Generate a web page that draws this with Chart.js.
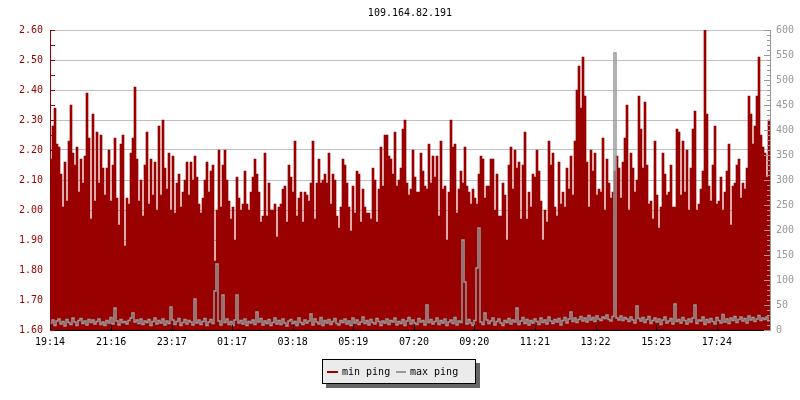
<!DOCTYPE html>
<html>
<head>
<meta charset="utf-8">
<title>109.164.82.191</title>
<script src="https://cdn.jsdelivr.net/npm/chart.js@4.4.1/dist/chart.umd.min.js"></script>
<style>
  html, body { margin: 0; padding: 0; background: #fff; }
  canvas { display: block; }
</style>
</head>
<body>
<canvas id="pingChart" width="800" height="400"></canvas>
<script>
// Host and series names
const chartTitle = '109.164.82.191';
const seriesNames = ['min ping', 'max ping'];

// Time labels on the bottom axis (24h starting 19:14)
const tickLabels = ['19:14', '21:16', '23:17', '01:17', '03:18', '05:19',
                    '07:20', '09:20', '11:21', '13:22', '15:23', '17:24'];
const startTime = '19:14';
const spanMinutes = 1436;

// min ping (left axis), one value per ~4 minutes
const minPing = [
    2.17, 2.28, 2.34, 2.22, 2.21, 2.12, 2.01, 2.16, 2.03, 2.23, 2.35, 2.19,
    2.15, 2.21, 2.06, 2.17, 2.09, 2.18, 2.39, 2.24, 1.97, 2.32, 2.03, 2.26,
    2.09, 2.25, 2.14, 2.05, 2.14, 2.20, 2.03, 2.15, 2.24, 2.04, 1.95, 2.22,
    2.25, 1.88, 2.04, 2.02, 2.19, 2.24, 2.41, 2.17, 2.03, 2.10, 1.98, 2.15,
    2.26, 2.02, 2.17, 2.05, 2.16, 2.00, 2.28, 2.05, 2.30, 2.14, 2.07, 2.19,
    2.00, 2.18, 1.99, 2.09, 2.12, 2.01, 2.06, 2.10, 2.16, 2.05, 2.16, 2.10,

    2.18, 2.11, 2.02, 1.99, 2.04, 2.10, 2.16, 2.06, 2.13, 2.15, 1.83, 2.00,
    2.20, 2.01, 2.15, 2.20, 2.10, 2.03, 1.97, 2.01, 1.90, 2.11, 2.04, 2.00,
    2.02, 2.13, 2.02, 2.00, 2.06, 2.11, 2.17, 2.12, 2.06, 1.96, 1.98, 2.19,
    1.98, 2.09, 2.00, 2.00, 2.02, 1.91, 2.01, 2.02, 2.07, 2.08, 1.96, 2.15,
    2.11, 2.06, 2.23, 1.98, 2.04, 2.06, 1.96, 2.06, 2.05, 2.03, 2.09, 2.23,
    1.97, 2.09, 2.17, 2.09, 2.10, 2.12, 2.09, 2.19, 2.02, 2.12, 2.10, 1.98,

    1.94, 2.01, 2.17, 2.15, 2.09, 2.01, 1.93, 2.08, 1.99, 2.13, 2.12, 1.96,
    2.07, 2.01, 1.99, 1.99, 1.97, 2.14, 2.10, 1.96, 2.07, 2.21, 2.08, 2.25,
    2.25, 2.18, 2.17, 2.12, 2.26, 2.08, 2.10, 2.14, 2.27, 2.30, 2.09, 2.05,
    2.07, 2.20, 2.11, 2.06, 2.06, 2.19, 2.13, 2.08, 2.07, 2.22, 2.09, 2.18,
    2.11, 2.18, 1.98, 2.23, 2.07, 2.08, 1.90, 2.06, 2.30, 2.21, 2.22, 1.99,
    2.07, 2.13, 2.09, 2.21, 2.08, 2.06, 2.02, 2.07, 2.04, 2.02, 2.12, 2.18,

    2.17, 2.04, 2.08, 2.08, 2.17, 2.17, 2.00, 2.12, 1.98, 1.98, 2.09, 2.05,
    1.90, 2.15, 2.21, 2.07, 2.20, 2.14, 2.16, 1.97, 2.15, 2.26, 1.97, 2.06,
    2.01, 2.12, 2.11, 2.20, 2.13, 2.03, 1.90, 2.00, 1.96, 2.23, 2.15, 2.19,
    2.01, 1.98, 2.16, 2.02, 2.06, 2.01, 2.14, 2.07, 2.18, 2.05, 2.23, 2.40,
    2.48, 2.34, 2.51, 2.38, 2.16, 2.01, 2.20, 2.13, 2.19, 2.05, 2.07, 2.06,
    2.24, 2.00, 2.17, 2.09, 2.04, 2.06, 2.13, 2.18, 2.14, 2.04, 2.16, 2.24,

    2.35, 2.00, 2.19, 2.14, 2.06, 2.10, 2.38, 2.27, 2.14, 2.36, 2.15, 2.02,
    2.03, 1.97, 2.23, 2.05, 1.94, 2.01, 2.19, 2.12, 2.05, 2.06, 2.15, 2.01,
    2.01, 2.27, 2.26, 2.05, 2.23, 2.06, 2.20, 2.00, 2.14, 2.27, 2.33, 2.00,
    2.02, 2.07, 2.13, 2.60, 2.32, 2.08, 2.03, 2.15, 2.28, 2.02, 2.03, 2.11,
    2.00, 2.06, 2.13, 2.22, 1.95, 2.08, 2.09, 2.15, 2.17, 2.04, 2.09, 2.07,
    2.14, 2.38, 2.32, 2.22, 2.28, 2.38, 2.51, 2.25, 2.21, 2.19, 2.11, 2.30
];

// max ping (right axis), same sampling
const maxPing = [
    14, 20, 9, 18, 22, 12, 17, 8, 21, 15, 11, 24, 16, 9, 19, 23, 13, 18, 10, 21, 15, 20, 12, 17,
    22, 11, 16, 9, 19, 14, 25, 12, 44, 18, 10, 21, 15, 17, 12, 19, 24, 34, 16, 20, 13, 22, 11, 18,
    15, 21, 9, 17, 24, 12, 19, 14, 22, 10, 18, 13, 46, 20, 11, 17, 23, 9, 15, 21, 12, 19, 16, 10,
    62, 14, 20, 11, 17, 23, 9, 16, 21, 13, 78, 132, 18, 10, 70, 15, 22, 11, 17, 9, 20, 70, 14, 19,
    12, 22, 9, 17, 14, 20, 11, 36, 16, 23, 10, 18, 13, 21, 9, 15, 24, 12, 19, 11, 22, 14, 8, 18,
    21, 13, 17, 9, 24, 15, 11, 20, 14, 18, 32, 10, 22, 16, 12, 25, 9, 19, 14, 21, 11, 17, 23, 13,
    10, 19, 15, 22, 12, 18, 9, 24, 14, 20, 11, 16, 26, 13, 19, 10, 21, 15, 12, 23, 17, 9, 18, 14,
    22, 11, 19, 16, 24, 10, 17, 13, 21, 9, 18, 25, 12, 20, 14, 11, 23, 16, 19, 10, 50, 15, 21, 12,
    17, 24, 11, 19, 14, 22, 9, 16, 20, 13, 25, 10, 18, 15, 180, 96, 12, 21, 14, 9, 19, 124, 204, 16,
    11, 34, 20, 13, 18, 24, 10, 17, 22, 14, 9, 19, 15, 23, 12, 20, 16, 44, 11, 18, 25, 13, 21, 10,
    19, 14, 22, 17, 11, 24, 15, 20, 12, 26, 18, 13, 21, 16, 23, 10, 19, 25, 14, 22, 36, 17, 24, 15,
    21, 27, 18, 24, 16, 29, 20, 25, 17, 28, 22, 19, 26, 23, 30, 21, 18, 27, 554, 24, 20, 28, 19, 25,
    22, 17, 26, 20, 14, 48, 23, 18, 25, 15, 21, 27, 13, 19, 24, 16, 22, 11, 20, 26, 14, 18, 23, 12,
    52, 17, 21, 14, 25, 19, 12, 22, 16, 24, 50, 13, 20, 18, 26, 11, 21, 15, 23, 17, 12, 25, 19, 14,
    31, 16, 22, 13, 24, 19, 27, 15, 21, 26, 18, 23, 14, 28, 20, 25, 17, 22, 29, 19, 24, 21, 26, 18
];

const minColor = '#990000';
const maxColor = '#999999';
const monoFont = '"DejaVu Sans Mono", "Liberation Mono", monospace';

// minutes after the start time for a "HH:MM" label
function minutesFromStart(label) {
    const [h, m] = label.split(':').map(Number);
    const [h0, m0] = startTime.split(':').map(Number);
    return ((h * 60 + m) - (h0 * 60 + m0) + 1440) % 1440;
}

const slotMinutes = spanMinutes / minPing.length;
const slotCentres = minPing.map((v, i) => i + 0.5);
const tickSlots = tickLabels.map(t => minutesFromStart(t) / slotMinutes);

Chart.defaults.font.family = monoFont;
Chart.defaults.font.size = 10;

// title, inward tick marks and the boxed legend
const decorPlugin = {
    id: 'decor',
    afterDraw(chart) {
        const ctx = chart.ctx;
        const area = chart.chartArea;
        const x = chart.scales.x;
        const y = chart.scales.y;
        const y1 = chart.scales.y1;
        ctx.save();
        ctx.lineWidth = 1;

        ctx.strokeStyle = minColor;
        for (let v = 1.6; v <= 2.6001; v += 0.05) {
            const py = Math.round(y.getPixelForValue(v)) + 0.5;
            ctx.beginPath();
            ctx.moveTo(area.left, py);
            ctx.lineTo(area.left + 5, py);
            ctx.stroke();
        }

        ctx.strokeStyle = maxColor;
        for (let v = 0; v <= 600; v += 10) {
            const py = Math.round(y1.getPixelForValue(v)) + 0.5;
            const len = v % 50 === 0 ? 6 : 3;
            ctx.beginPath();
            ctx.moveTo(area.right - len, py);
            ctx.lineTo(area.right, py);
            ctx.stroke();
        }

        ctx.strokeStyle = '#000';
        tickSlots.forEach(s => {
            const px = Math.round(x.getPixelForValue(s)) + 0.5;
            ctx.beginPath();
            ctx.moveTo(px, area.bottom);
            ctx.lineTo(px, area.bottom - 5);
            ctx.stroke();
        });

        ctx.font = '10px ' + monoFont;
        ctx.fillStyle = '#000';
        ctx.textAlign = 'center';
        ctx.textBaseline = 'middle';
        ctx.fillText(chartTitle, (area.left + area.right) / 2, 13);

        // legend box with shadow
        const bx = 322, by = 359, bw = 154, bh = 25;
        ctx.fillStyle = '#666666';
        ctx.fillRect(bx + 4, by + 4, bw, bh);
        ctx.fillStyle = '#ebebeb';
        ctx.fillRect(bx, by, bw, bh);
        ctx.strokeStyle = '#000';
        ctx.strokeRect(bx + 0.5, by + 0.5, bw - 1, bh - 1);

        const cy = by + 13;
        ctx.textAlign = 'left';
        ctx.fillStyle = minColor;
        ctx.fillRect(bx + 5, cy - 1, 11, 2);
        ctx.fillStyle = '#000';
        ctx.fillText(seriesNames[0], bx + 20, cy);
        ctx.fillStyle = maxColor;
        ctx.fillRect(bx + 74, cy - 1, 10, 2);
        ctx.fillStyle = '#000';
        ctx.fillText(seriesNames[1], bx + 88, cy);
        ctx.restore();
    }
};

const ctx = document.getElementById('pingChart').getContext('2d');
const pingChart = new Chart(ctx, {
    data: {
        labels: slotCentres,
        datasets: [{
            type: 'line',
            label: seriesNames[1],
            data: maxPing,
            yAxisID: 'y1',
            borderColor: maxColor,
            borderWidth: 1.5,
            pointRadius: 0,
            stepped: 'middle',
            order: 0
        }, {
            type: 'bar',
            label: seriesNames[0],
            data: minPing,
            yAxisID: 'y',
            backgroundColor: minColor,
            borderWidth: 0,
            barPercentage: 1,
            categoryPercentage: 1,
            order: 1
        }]
    },
    options: {
        responsive: false,
        animation: false,
        layout: { padding: { top: 30, left: 0, right: 0, bottom: 0 } },
        plugins: {
            legend: { display: false },
            title: { display: false },
            tooltip: { enabled: false }
        },
        scales: {
            x: {
                type: 'linear',
                min: 0,
                max: minPing.length,
                offset: false,
                grid: { display: false, drawTicks: false },
                border: { color: '#000', width: 1 },
                afterBuildTicks: scale => {
                    scale.ticks = tickSlots.map(v => ({ value: v }));
                },
                afterFit: scale => { scale.height = 70; },
                ticks: {
                    color: '#000',
                    padding: 6,
                    maxRotation: 0,
                    autoSkip: false,
                    callback: (value, index) => tickLabels[index]
                }
            },
            y: {
                position: 'left',
                min: 1.6,
                max: 2.6,
                grid: { color: '#c0c0c0', drawTicks: false },
                border: { color: minColor, width: 1 },
                afterFit: scale => { scale.width = 50; },
                ticks: {
                    stepSize: 0.1,
                    color: minColor,
                    padding: 7,
                    callback: v => Number(v).toFixed(2)
                }
            },
            y1: {
                position: 'right',
                min: 0,
                max: 600,
                grid: { drawOnChartArea: false, drawTicks: false },
                border: { color: maxColor, width: 1 },
                afterFit: scale => { scale.width = 30; },
                ticks: {
                    stepSize: 50,
                    color: maxColor,
                    padding: 6
                }
            }
        }
    },
    plugins: [decorPlugin]
});
</script>
</body>
</html>
